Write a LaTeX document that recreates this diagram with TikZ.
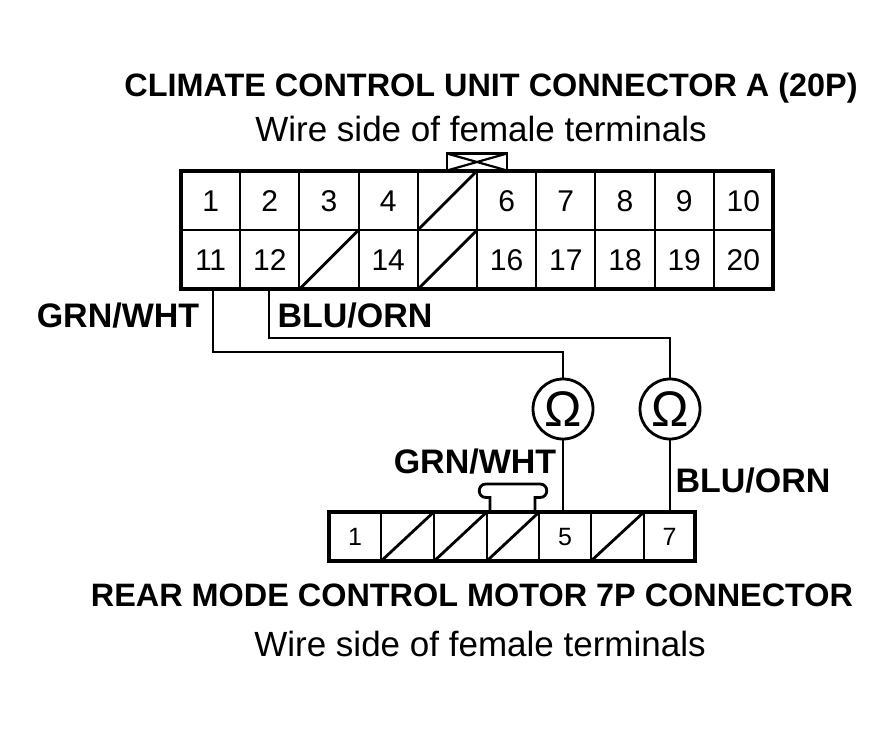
\documentclass[tikz,border=0pt]{standalone}
\usepackage{fontspec}
\setmainfont{Liberation Sans}
\begin{document}
\begin{tikzpicture}[x=1pt,y=-1pt,
  cell/.style={draw=black,line width=2pt,minimum width=59.2pt,minimum height=59.2pt,inner sep=0pt,outer sep=0pt,text height=21pt,text depth=0pt,font=\fontsize{30}{30}\selectfont},
  lowcell/.style={draw=black,line width=2pt,minimum width=#1,minimum height=49pt,inner sep=0pt,outer sep=0pt,text height=17pt,text depth=0pt,font=\fontsize{25}{26}\selectfont},
  frame/.style={draw=black,line width=4pt,fill=none},
  wire/.style={draw=black,line width=2.8pt},
  void/.style={draw=black,line width=2.8pt,shorten >=1pt,shorten <=1pt},
  title/.style={font=\fontsize{32.4}{34}\selectfont\bfseries,inner sep=0pt},
  sub/.style={font=\fontsize{35}{38}\selectfont,inner sep=0pt},
  wirelabel/.style={font=\fontsize{34}{36}\selectfont\bfseries,inner sep=0pt},
  meter/.style={circle,draw=black,line width=2.8pt,minimum size=60pt,inner sep=0pt,font=\fontsize{50}{50}\selectfont},
]
\useasboundingbox (0,0) rectangle (895,731);
\fill[white] (0,0) rectangle (895,731);

% Titles
\node[title] (t1) at (491,88) {CLIMATE CONTROL UNIT CONNECTOR A (20P)};
\node[sub] (t2) at (481,129) {Wire side of female terminals};
\node[title] (t3) at (472,595) {REAR MODE CONTROL MOTOR 7P CONNECTOR};
\node[sub] (t4) at (480,644) {Wire side of female terminals};

% Upper connector cells
\foreach \i/\t in {1/1,2/2,3/3,4/4,5/,6/6,7/7,8/8,9/9,10/10}{
  \node[cell] (u\i) at ({181+59.2*(\i-0.5)},200.5) {\t};
}
\foreach \i/\t in {11/11,12/12,13/,14/14,15/,16/16,17/17,18/18,19/19,20/20}{
  \node[cell] (u\i) at ({181+59.2*(\i-10.5)},259.7) {\t};
}
\draw[frame] (u1.north west) rectangle (u20.south east);
\draw[void] (u5.south west) -- (u5.north east);
\draw[void] (u13.south west) -- (u13.north east);
\draw[void] (u15.south west) -- (u15.north east);

% Key tab
\node[draw=black,line width=2.8pt,minimum width=60pt,minimum height=17pt,inner sep=0pt,outer sep=0pt] (key) at (477,162) {};
\draw[line width=2.2pt] (key.north west) -- (key.south east) (key.south west) -- (key.north east);

% Lower connector cells
\foreach \i/\t/\xa/\w in {1/1/355/52.4,2//407.5/52.6,3//460.5/52.6,4//513/52.4,5/5/565/52,6//617.5/53,7/7/669.5/51}{
  \node[lowcell=\w pt] (d\i) at (\xa,536.5) {\t};
}
\draw[frame] (d1.north west) rectangle (d7.south east);
\foreach \i in {2,3,4,6}{
  \draw[void] (d\i.south west) -- (d\i.north east);
}

% Lock on lower connector
\coordinate (la) at (490,512);
\coordinate (lb) at (535,512);
\draw[wire] (la) -- (490,497.5) -- (486,497.5) .. controls (477,497.5) and (477,484) .. (486,484) -- (540,484) .. controls (549,484) and (549,497.5) .. (540,497.5) -- (535,497.5) -- (lb);

% Meters
\node[meter] (m1) at (563,409) {Ω};
\node[meter] (m2) at (670,409) {Ω};

% Wires
\coordinate (b1) at (213,352);
\coordinate (b2) at (563,352);
\coordinate (c1) at (269,338);
\coordinate (c2) at (670,338);
\draw[wire] (u11.south -| b1) -- (b1) -- (b2) -- (m1.north);
\draw[wire] (u12.south -| c1) -- (c1) -- (c2) -- (m2.north);
\draw[wire] (m1.south) -- (m1.south |- d5.north);
\draw[wire] (m2.south) -- (m2.south |- d7.north);

% Wire labels
\node[wirelabel] (l1) at (118,316) {GRN/WHT};
\node[wirelabel] (l2) at (355,316) {BLU/ORN};
\node[wirelabel] (l3) at (475,462) {GRN/WHT};
\node[wirelabel] (l4) at (753,481) {BLU/ORN};
\end{tikzpicture}
\end{document}
